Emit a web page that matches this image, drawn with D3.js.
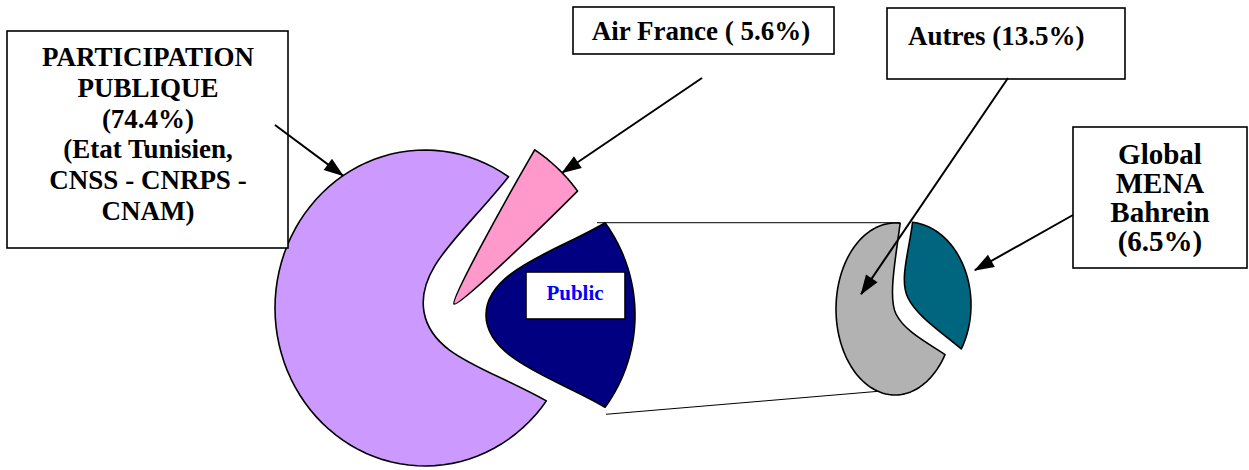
<!DOCTYPE html>
<html>
<head>
<meta charset="utf-8">
<script src="https://cdn.jsdelivr.net/npm/d3@7"></script>
<style>
  body { margin: 0; background: #fff; }
  svg text { font-family: 'Liberation Serif', 'Times New Roman', serif; font-weight: bold; }
</style>
</head>
<body>
<div id="chart"></div>
<script>
// main pie: public share, Air France, and the "Public" group split in the small pie
const mainCategories = ['PARTICIPATION PUBLIQUE', 'Air France', 'Public']
const mainValues = [74.4, 5.6, 20.0]
// secondary pie
const subCategories = ['Autres', 'Global MENA Bahrein']
const subValues = [13.5, 6.5]

const COLORS = ['#CC99FF', '#FF99CC', '#000080']
const SUB_COLORS = ['#B2B2B2', '#006680']

const rad = deg => deg * Math.PI / 180

// per-slice drawing geometry (the original has warped, rounded wedge tips)
const mainGeo = [
  { cx: 425, cy: 308, rx: 150, ry: 158, apex: [424, 312], t: 45, alpha: 0.45, b: 8 },
  { cx: 440, cy: 291, rx: 170, ry: 170, apex: [454, 304], t: 5, alpha: 0.4, b: 3 },
  { cx: 478, cy: 315, rx: 157, ry: 157, apex: [486, 315], t: 45, alpha: 0.35, b: 6 }
]
const subGeo = [
  { cx: 895, cy: 309, rx: 59, ry: 86, apex: [896, 314], t: 18, alpha: 0.4, b: 3 },
  { cx: 907, cy: 305, rx: 64, ry: 83, apex: [908, 298], t: 20, alpha: 0.4, b: 2 }
]

const svg = d3.select('#chart').append('svg')
  .attr('width', 1249)
  .attr('height', 470)

svg.append('defs').append('marker')
  .attr('id', 'arrow')
  .attr('markerUnits', 'userSpaceOnUse')
  .attr('markerWidth', 22).attr('markerHeight', 16)
  .attr('viewBox', '0 -8 20 16')
  .attr('refX', 19).attr('refY', 0)
  .attr('orient', 'auto')
  .append('path').attr('d', 'M0,-7L20,0L0,7Z').attr('fill', '#000')

const mainPie = d3.pie().sort(null).startAngle(rad(126)).endAngle(rad(486))
const subPie = d3.pie().sort(null).startAngle(rad(122)).endAngle(rad(482))
const mainArcs = mainPie(mainValues)
const subArcs = subPie(subValues)

function slicePoint(d, g, frac, k) {
  const a = d.startAngle + (d.endAngle - d.startAngle) * frac
  return [g.cx + k * g.rx * Math.sin(a), g.cy - k * g.ry * Math.cos(a)]
}

function wedge(d, g) {
  const pt = a => [g.cx + g.rx * Math.sin(a), g.cy - g.ry * Math.cos(a)]
  const P0 = pt(d.startAngle), P1 = pt(d.endAngle), A = g.apex
  const mid = (d.startAngle + d.endAngle) / 2
  let e1 = [Math.cos(mid), Math.sin(mid)]
  if (e1[0] * (P1[0] - A[0]) + e1[1] * (P1[1] - A[1]) < 0) e1 = [-e1[0], -e1[1]]
  const e0 = [-e1[0], -e1[1]]
  const ctrl = (P, e) => {
    const dx = A[0] - P[0], dy = A[1] - P[1], len = Math.hypot(dx, dy)
    let n = [-dy / len, dx / len]
    if (n[0] * e[0] + n[1] * e[1] < 0) n = [-n[0], -n[1]]
    return [P[0] + g.alpha * dx + g.b * n[0], P[1] + g.alpha * dy + g.b * n[1]]
  }
  const p = d3.path()
  p.moveTo(P0[0], P0[1])
  d3.range(1, 81).forEach(i => {
    const q = pt(d.startAngle + (d.endAngle - d.startAngle) * i / 80)
    p.lineTo(q[0], q[1])
  })
  const c1 = ctrl(P1, e1)
  p.bezierCurveTo(c1[0], c1[1], A[0] + g.t * e1[0], A[1] + g.t * e1[1], A[0], A[1])
  const c0 = ctrl(P0, e0)
  p.bezierCurveTo(A[0] + g.t * e0[0], A[1] + g.t * e0[1], c0[0], c0[1], P0[0], P0[1])
  p.closePath()
  return p.toString()
}

// connector lines between the "Public" slice and the second pie
const navy = mainArcs[2], gray = subArcs[0]
const nTop = slicePoint(navy, mainGeo[2], 0, 1)
const nBot = slicePoint(navy, mainGeo[2], 1, 1)
const sTop = slicePoint(gray, subGeo[0], 1, 1)
const sBot = slicePoint(gray, subGeo[0], 0.29, 1)
svg.append('line').attr('x1', nTop[0] - 8).attr('y1', nTop[1]).attr('x2', sTop[0]).attr('y2', nTop[1])
  .attr('stroke', '#000').attr('stroke-width', 1)
svg.append('line').attr('x1', nBot[0] + 1).attr('y1', nBot[1] + 7).attr('x2', sBot[0]).attr('y2', sBot[1] - 2)
  .attr('stroke', '#000').attr('stroke-width', 1)

svg.append('g').selectAll('path')
  .data(mainArcs)
  .join('path')
  .attr('d', (d, i) => wedge(d, mainGeo[i]))
  .attr('fill', (d, i) => COLORS[i])
  .attr('stroke', '#000')
  .attr('stroke-width', 1.6)
  .attr('stroke-linejoin', 'round')

svg.append('g').selectAll('path')
  .data(subArcs)
  .join('path')
  .attr('d', (d, i) => wedge(d, subGeo[i]))
  .attr('fill', (d, i) => SUB_COLORS[i])
  .attr('stroke', '#000')
  .attr('stroke-width', 1.6)
  .attr('stroke-linejoin', 'round')

// label inside the "Public" slice
svg.append('rect').attr('x', 526).attr('y', 272).attr('width', 99).attr('height', 47)
  .attr('fill', '#fff').attr('stroke', '#000').attr('stroke-width', 1.6)
svg.append('text').attr('x', 575).attr('y', 300).attr('text-anchor', 'middle')
  .attr('font-size', '21px').attr('fill', '#0000FF').text(mainCategories[2])

// callouts
const callouts = [
  { box: [7, 31, 281, 217], x: 148, y: 66, dy: 30.8, size: 27, anchor: 'middle',
    lines: ['PARTICIPATION', 'PUBLIQUE', `(${mainValues[0]}%)`, '(Etat Tunisien,', 'CNSS - CNRPS -', 'CNAM)'],
    from: [275, 125], to: slicePoint(mainArcs[0], mainGeo[0], 0.75, 1) },
  { box: [573, 7, 261, 47], x: 701, y: 40, dy: 0, size: 27, anchor: 'middle',
    lines: [`${mainCategories[1]} ( ${mainValues[1]}%)`],
    from: [702, 78], to: slicePoint(mainArcs[1], mainGeo[1], 0.6, 1) },
  { box: [887, 8, 238, 71], x: 908, y: 45, dy: 0, size: 27, anchor: 'start',
    lines: [`${subCategories[0]} (${subValues[0]}%)`],
    from: [1008, 78], to: slicePoint(subArcs[0], subGeo[0], 0.678, 0.6) },
  { box: [1073, 127, 174, 141], x: 1160, y: 164, dy: 29, size: 29, anchor: 'middle',
    lines: ['Global', 'MENA', 'Bahrein', `(${subValues[1]}%)`],
    from: [1073, 215], to: slicePoint(subArcs[1], subGeo[1], 0.542, 1.14) }
]

callouts.forEach(c => {
  svg.append('rect')
    .attr('x', c.box[0]).attr('y', c.box[1]).attr('width', c.box[2]).attr('height', c.box[3])
    .attr('fill', '#fff').attr('stroke', '#000').attr('stroke-width', 1.6)
  const t = svg.append('text')
    .attr('text-anchor', c.anchor)
    .attr('font-size', c.size + 'px')
    .attr('fill', '#000')
  c.lines.forEach((line, i) => {
    t.append('tspan').attr('x', c.x).attr('y', c.y + i * c.dy).text(line)
  })
  svg.append('line')
    .attr('x1', c.from[0]).attr('y1', c.from[1])
    .attr('x2', c.to[0]).attr('y2', c.to[1])
    .attr('stroke', '#000').attr('stroke-width', 2)
    .attr('marker-end', 'url(#arrow)')
})
</script>
</body>
</html>
